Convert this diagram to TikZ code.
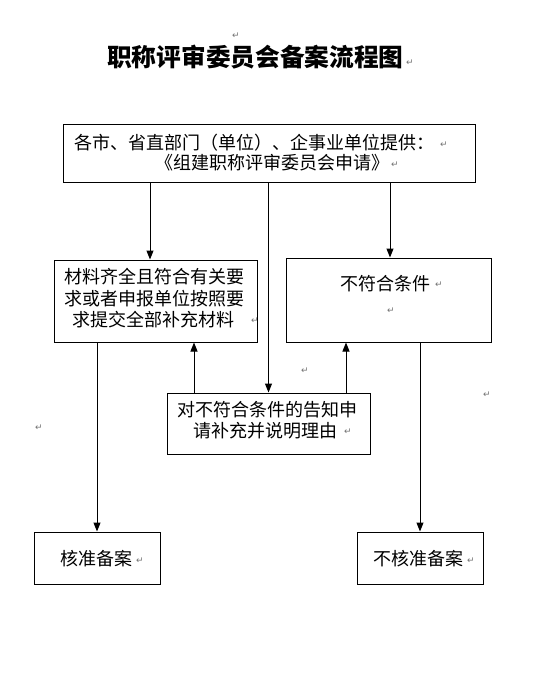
\documentclass[tikz,border=0pt]{standalone}
\usepackage{fontspec}
\newfontfamily\cjk{Noto Sans CJK SC}
\newfontfamily\sym{DejaVu Sans}
\usetikzlibrary{arrows.meta}
\begin{document}
\begin{tikzpicture}[x=1pt,y=-1pt,
  box/.style={draw,line width=1pt,inner sep=0,minimum width=#1},
  arr/.style={line width=1pt,-{Triangle[length=9pt,width=7pt]}},
  txt/.style={anchor=west,inner sep=0,font=\cjk\fontsize{18pt}{21pt}\selectfont},
  ttl/.style={anchor=west,inner sep=0,font=\cjk\bfseries\fontsize{24.7pt}{28pt}\selectfont},
  pm/.style={inner sep=0,text=black!55,font=\sym\fontsize{9pt}{10pt}\selectfont}]
\fill[white] (0,0) rectangle (535,682);
\useasboundingbox (0,0) rectangle (535,682);
% title
\node[ttl] (title) at (107,57) {职称评审委员会备案流程图};
% boxes
\node[box=412pt,minimum height=57pt] (top) at (269,153.5) {};
\node[box=203pt,minimum height=82pt] (left) at (155.5,301) {};
\node[box=205pt,minimum height=84pt] (right) at (388.5,300) {};
\node[box=203pt,minimum height=61pt] (mid) at (268.5,423.5) {};
\node[box=126pt,minimum height=52pt] (bl) at (97,558) {};
\node[box=126pt,minimum height=52pt] (br) at (420,558) {};
% texts
\node[txt] (t1) at (74,143) {各市、省直部门（单位）、企事业单位提供：};
\node[txt] (t2) at (155,163) {《组建职称评审委员会申请》};
\node[txt] (l1) at (64,277) {材料齐全且符合有关要};
\node[txt] (l2) at (64,298.5) {求或者申报单位按照要};
\node[txt] (l3) at (72,320) {求提交全部补充材料};
\node[txt] (r1) at (340,284) {不符合条件};
\node[txt] (m1) at (177,410) {对不符合条件的告知申};
\node[txt] (m2) at (193,431) {请补充并说明理由};
\node[txt] (b1) at (60,559) {核准备案};
\node[txt] (b2) at (373,559) {不核准备案};
% paragraph marks
\node[pm] (p1) at (236,36) {↵};
\node[pm] (p2) at (410,63) {↵};
\node[pm] (p3) at (444,145) {↵};
\node[pm] (p4) at (395,165) {↵};
\node[pm] (p5) at (255,321) {↵};
\node[pm] (p6) at (439,285) {↵};
\node[pm] (p7) at (391,311) {↵};
\node[pm] (p8) at (305,371) {↵};
\node[pm] (p9) at (487,395) {↵};
\node[pm] (p10) at (39,428) {↵};
\node[pm] (p11) at (348,432) {↵};
\node[pm] (p12) at (140,561) {↵};
\node[pm] (p13) at (471,561) {↵};
% connectors
\draw[arr] (top.south -| 150,0) -- (left.north -| 150,0);
\draw[arr] (top.south -| mid.north) -- (mid.north);
\draw[arr] (top.south -| 390,0) -- (right.north -| 390,0);
\draw[arr] (mid.north -| 194,0) -- (left.south -| 194,0);
\draw[arr] (mid.north -| 346,0) -- (right.south -| 346,0);
\draw[arr] (left.south -| bl.north) -- (bl.north);
\draw[arr] (right.south -| br.north) -- (br.north);
\end{tikzpicture}
\end{document}
